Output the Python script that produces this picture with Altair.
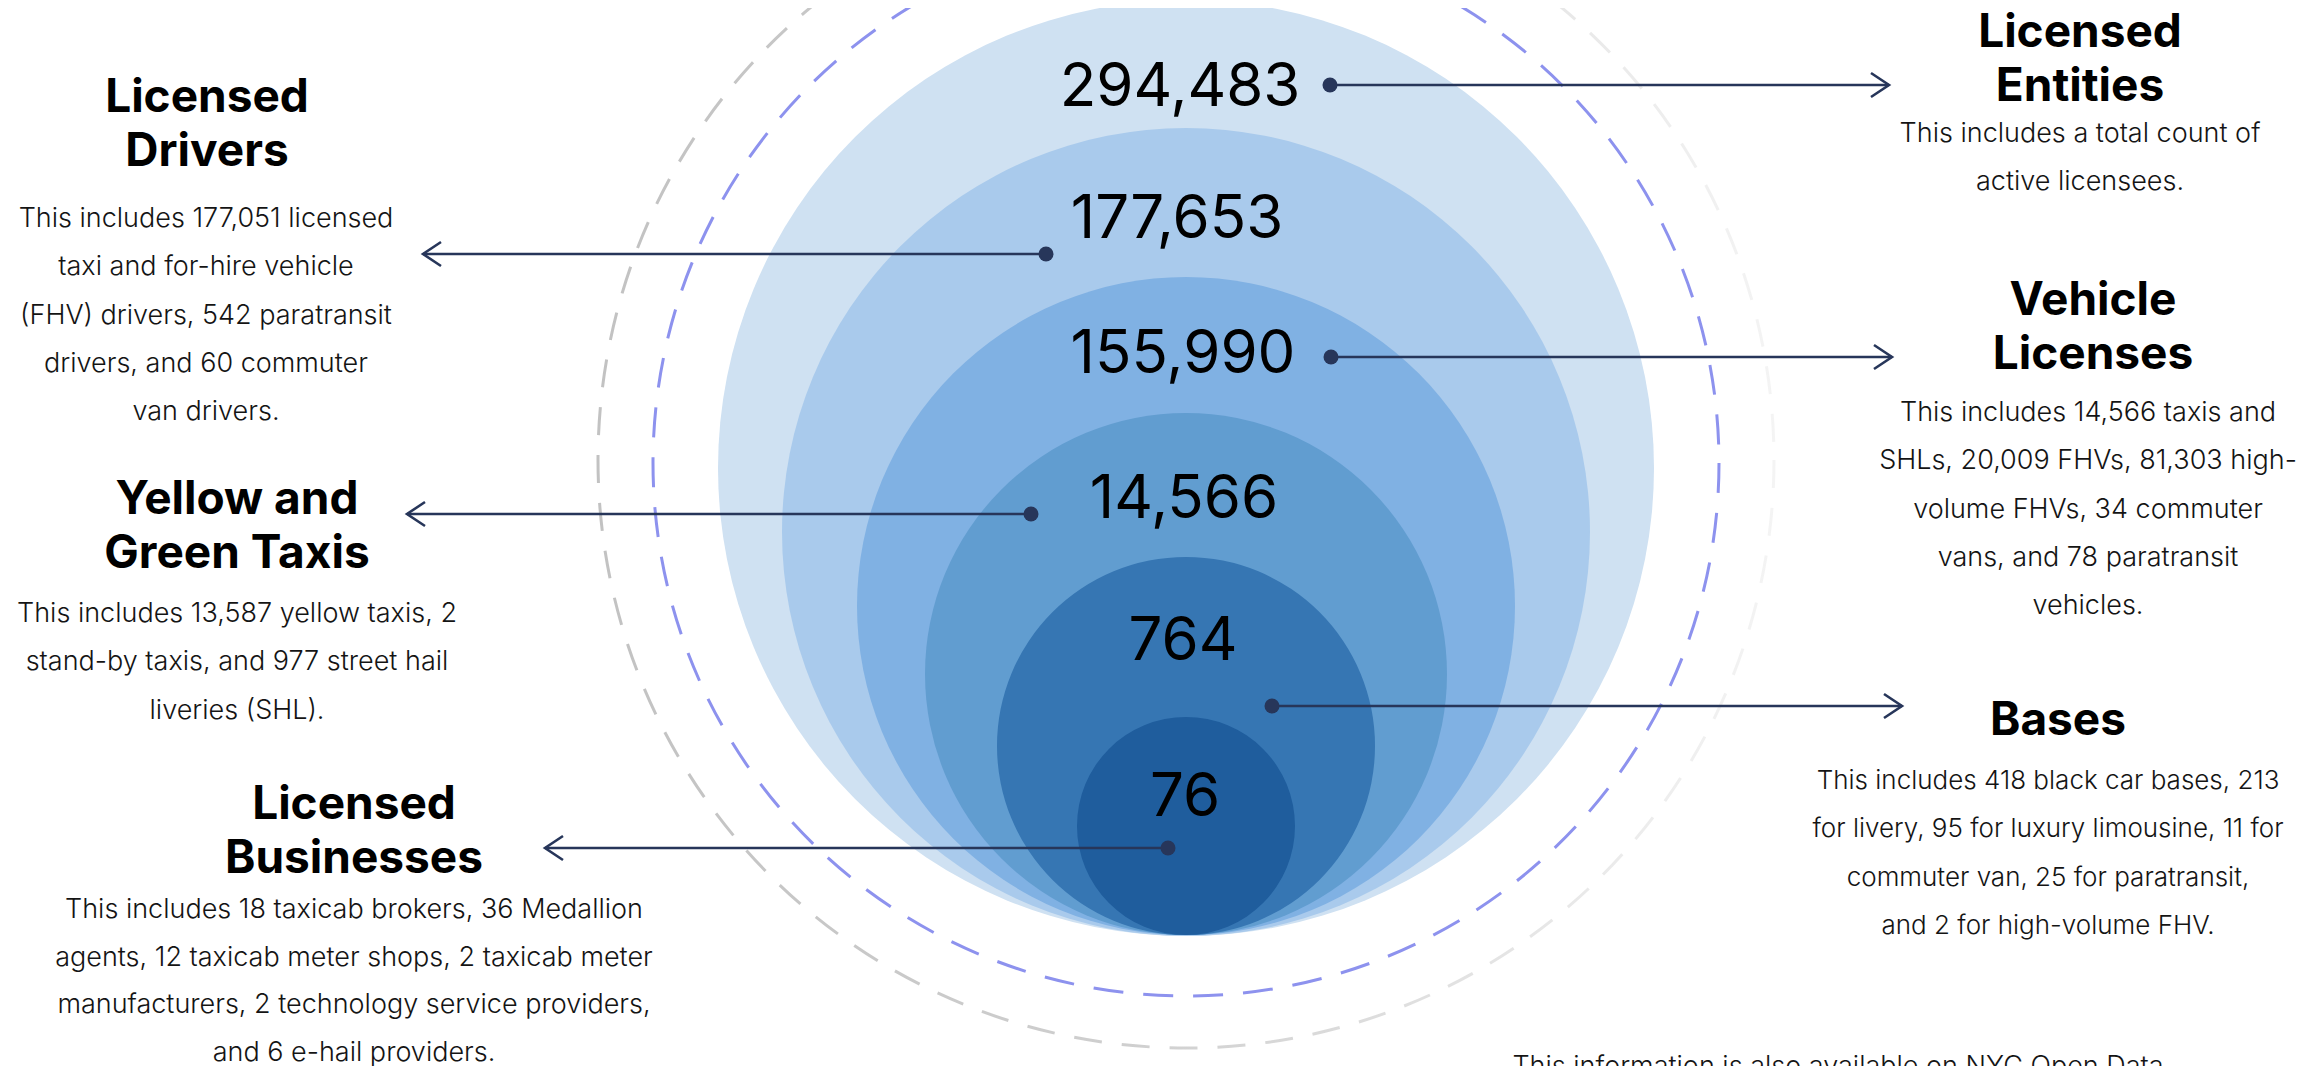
import altair as alt
import pandas as pd

# ---------------- data ----------------
title_lines = [
    ["Licensed", "Entities"],
    ["Licensed", "Drivers"],
    ["Vehicle", "Licenses"],
    ["Yellow and", "Green Taxis"],
    ["Bases"],
    ["Licensed", "Businesses"],
]
counts = [294483, 177653, 155990, 14566, 764, 76]
descriptions = [
    ["This includes a total count of", "active licensees."],
    ["This includes 177,051  licensed", "taxi and for-hire vehicle",
     "(FHV) drivers, 542 paratransit", "drivers, and 60 commuter", "van drivers."],
    ["This includes 14,566 taxis and", "SHLs, 20,009 FHVs, 81,303 high-",
     "volume FHVs, 34 commuter", "vans, and 78 paratransit", "vehicles."],
    ["This includes 13,587 yellow taxis, 2", "stand-by taxis, and 977 street hail",
     "liveries (SHL)."],
    ["This includes 418 black car bases, 213", "for livery, 95 for luxury limousine, 11 for",
     "commuter van, 25 for paratransit,", "and 2 for high-volume FHV."],
    ["This includes 18 taxicab brokers, 36 Medallion", "agents, 12 taxicab meter shops, 2 taxicab meter",
     "manufacturers, 2 technology service providers,", "and 6 e-hail providers."],
]
footer = "This information is also available on NYC Open Data"

# ---------------- layout & style ----------------
circle_colors = ["#cfe1f2", "#a9caec", "#80b1e3", "#619dd0", "#3676b3", "#1f5d9d"]
CX = 1186
circle_r = [468, 404, 329, 261, 189, 109]
circle_cy = [468, 532, 606, 674, 746, 826]
number_x = [1180, 1177, 1183, 1184, 1183, 1185]
number_y = [88, 220, 355, 500, 642, 798]
dot_x = [1330, 1046, 1331, 1031, 1272, 1168]
dot_y = [85, 254, 357, 514, 706, 848]
tip_x = [1889, 423, 1892, 407, 1902, 545]
title_x = [2080, 207, 2093, 237, 2058, 354]
title_y0 = [33, 98, 301, 500, 721, 805]
body_x = [2080, 206, 2088, 237, 2048, 354]
body_y0 = [134, 219, 413, 614, 781, 910]
body_step = [48.3, 48.3, 48.3, 48.3, 48.3, 47.5]
body_size = [27, 27, 27, 27, 26, 27]
TITLE_STEP = 54
NAVY = "#27365a"
FONT = "Inter"

W, H = 2288, 1058
xs = alt.Scale(domain=[8, 8 + W], nice=False, zero=False)
ys = alt.Scale(domain=[8, 8 + H], nice=False, zero=False, reverse=True)


def X(f):
    return alt.X(f, type="quantitative", scale=xs, axis=None)


def Y(f):
    return alt.Y(f, type="quantitative", scale=ys, axis=None)


# circles
circ = pd.DataFrame({
    "idx": range(6),
    "x": [CX] * 6,
    "y": circle_cy,
    "size": [(2 * r) ** 2 for r in circle_r],
    "color": circle_colors,
})

rings = pd.DataFrame({"x": [CX], "y": [463], "size": [(2 * 533) ** 2]})
gray_ring = pd.DataFrame({"x": [CX], "y": [460], "size": [(2 * 588) ** 2]})

links = pd.DataFrame({
    "x": dot_x, "x2": tip_x, "y": dot_y,
    "shape": ["M-1.5,-1L0,0L-1.5,1" if t > d else "M1.5,-1L0,0L1.5,1" for t, d in zip(tip_x, dot_x)],
})

nums = pd.DataFrame({
    "x": number_x, "y": number_y,
    "label": [f"{v:,}" for v in counts],
})

trows = []
for i, lines in enumerate(title_lines):
    for j, ln in enumerate(lines):
        trows.append({"x": title_x[i], "y": title_y0[i] + j * TITLE_STEP, "t": ln})
tdf = pd.DataFrame(trows)

brows = []
for i, lines in enumerate(descriptions):
    for j, ln in enumerate(lines):
        brows.append({"x": body_x[i], "y": body_y0[i] + j * body_step[i], "t": ln,
                      "fs": body_size[i]})
bdf = pd.DataFrame(brows)

fdf = pd.DataFrame({"x": [1838], "y": [1067], "t": [footer]})

gray_grad = alt.LinearGradient(
    gradient="linear", x1=0, y1=0, x2=1, y2=0,
    stops=[alt.GradientStop(color="#c2c2c2", offset=0),
           alt.GradientStop(color="#cfcfcf", offset=0.45),
           alt.GradientStop(color="#f4f4f4", offset=1)],
)

l_gray = alt.Chart(gray_ring).mark_point(
    shape="circle", filled=False, opacity=1, strokeWidth=3,
    strokeDash=[28, 20], stroke=gray_grad,
).encode(x=X("x"), y=Y("y"), size=alt.Size("size:Q", scale=None))

l_blue = alt.Chart(rings).mark_point(
    shape="circle", filled=False, opacity=1, strokeWidth=3,
    strokeDash=[30, 20], stroke="#8d92ee",
).encode(x=X("x"), y=Y("y"), size=alt.Size("size:Q", scale=None))

l_circ = alt.Chart(circ).mark_point(
    shape="circle", filled=True, opacity=1, strokeWidth=0,
).encode(
    x=X("x"), y=Y("y"),
    size=alt.Size("size:Q", scale=None),
    color=alt.Color("color:N", scale=None),
    order=alt.Order("idx:Q"),
)

l_rule = alt.Chart(links).mark_rule(color=NAVY, strokeWidth=2.4).encode(
    x=X("x"), x2="x2", y=Y("y"))

l_dot = alt.Chart(links).mark_point(
    shape="circle", filled=True, opacity=1, color=NAVY, size=225
).encode(x=X("x"), y=Y("y"))

l_head = alt.Chart(links).mark_point(
    filled=False, opacity=1, color=NAVY, strokeWidth=2.6, size=576
).encode(x=X("x2"), y=Y("y"), shape=alt.Shape("shape:N", scale=None))

l_num = alt.Chart(nums).mark_text(
    font=FONT, fontSize=60, fontWeight=400, color="#000000",
    align="center", baseline="middle",
).encode(x=X("x"), y=Y("y"), text="label:N")

l_title = alt.Chart(tdf).mark_text(
    font=FONT, fontSize=46, fontWeight="bold", color="#000000",
    align="center", baseline="middle",
).encode(x=X("x"), y=Y("y"), text="t:N")

l_body = alt.Chart(bdf).mark_text(
    font=FONT, fontWeight=300, color="#141414",
    align="center", baseline="middle",
).encode(x=X("x"), y=Y("y"), text="t:N", size=alt.Size("fs:Q", scale=None))

l_foot = alt.Chart(fdf).mark_text(
    font=FONT, fontSize=27, fontWeight=300, color="#141414",
    align="center", baseline="middle",
).encode(x=X("x"), y=Y("y"), text="t:N")

chart = alt.layer(
    l_gray, l_blue, l_circ, l_rule, l_dot, l_head, l_num, l_title, l_body, l_foot
).properties(
    width=W, height=H, padding=0,
    autosize=alt.AutoSizeParams(type="none"),
    background="white",
).configure_view(stroke=None)

chart.save("out.html", embed_options={"renderer": "svg", "actions": False})
